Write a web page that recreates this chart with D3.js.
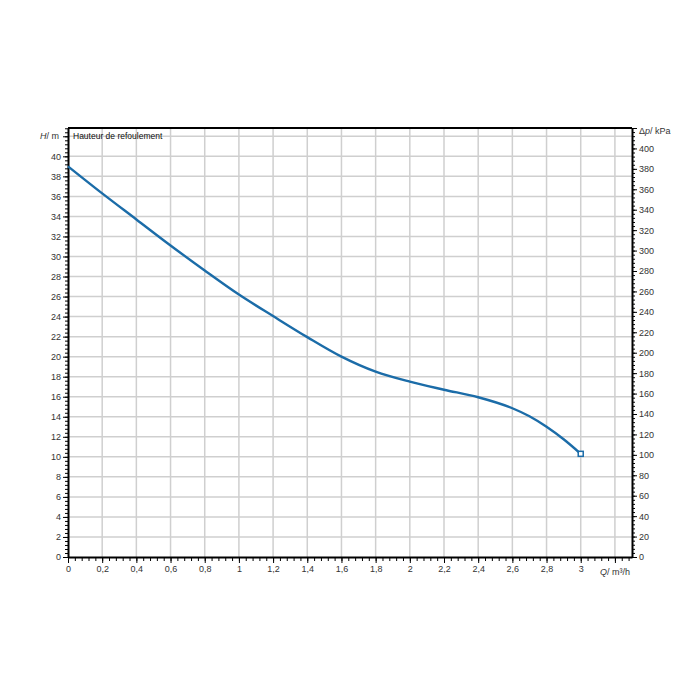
<!DOCTYPE html>
<meta charset="utf-8">
<style>
body { margin: 0; background: #fff; }
svg { font-family: "Liberation Sans", Arial, sans-serif; }
.grid line { stroke: #cfcfcf; stroke-width: 1.5px; }
.axis path, .axis line { stroke: #000; }
.axis path { stroke-width: 2px; }
.axis text { fill: #333; font-size: 9px; }
.curve { fill: none; stroke: #1b6ca8; stroke-width: 2.4px; }
</style>
<body>
<div id="chart"></div>
<script src="https://d3js.org/d3.v7.min.js"></script>
<script>
// flow Q (m3/h) and head H (m)
var flow = [0, 0.2, 0.4, 0.6, 0.8, 1.0, 1.2, 1.4, 1.6, 1.8, 2.0, 2.2, 2.4, 2.6, 2.7, 2.8, 2.9, 3.0];
var head = [39.0, 36.3, 33.7, 31.1, 28.6, 26.2, 24.05, 21.95, 20.0, 18.5, 17.5, 16.7, 15.95, 14.85, 14.05, 13.0, 11.75, 10.3];

var qTicks = [0, 0.2, 0.4, 0.6, 0.8, 1, 1.2, 1.4, 1.6, 1.8, 2, 2.2, 2.4, 2.6, 2.8, 3, 3.2];
var hTicks = [0, 2, 4, 6, 8, 10, 12, 14, 16, 18, 20, 22, 24, 26, 28, 30, 32, 34, 36, 38, 40, 42];
var pTicks = [0, 20, 40, 60, 80, 100, 120, 140, 160, 180, 200, 220, 240, 260, 280, 300, 320, 340, 360, 380, 400, 420];

var qMax = 3.3, pMax = 420, kPaPerM = 9.80665;

var margin = {top: 128, left: 68, right: 68, bottom: 143},
    width = 700 - margin.left - margin.right,
    height = 700 - margin.top - margin.bottom;

var x = d3.scaleLinear().domain([0, qMax]).range([0, width]);
var y = d3.scaleLinear().domain([0, pMax / kPaPerM]).range([height, 0]);
var yp = d3.scaleLinear().domain([0, pMax]).range([height, 0]);

var svg = d3.select("#chart").append("svg")
    .attr("width", 700)
    .attr("height", 700),
  g = svg.append("g")
    .attr("transform", "translate(" + margin.left + "," + margin.top + ")");

function fmt(v) { return String(+v.toFixed(1)).replace(".", ","); }
function range(a, b, s) { return d3.range(0, Math.round((b - a) / s) + 1).map(function(i) { return +(a + i * s).toFixed(3); }); }

// grid
g.append("g").attr("class", "grid")
  .selectAll("line").data(qTicks.slice(1)).enter().append("line")
    .attr("x1", x).attr("x2", x).attr("y1", 0).attr("y2", height);
g.append("g").attr("class", "grid")
  .selectAll("line").data(hTicks.slice(1)).enter().append("line")
    .attr("x1", 0).attr("x2", width).attr("y1", y).attr("y2", y);

// minor ticks
function minor(axis, scale, vals, len, tr) {
  g.append("g").attr("class", "axis").attr("transform", tr)
    .call(axis(scale).tickValues(vals).tickSize(len).tickFormat(""))
    .select(".domain").remove();
}
minor(d3.axisBottom, x, range(0, 3.28, 0.04), 4, "translate(0," + height + ")");
minor(d3.axisLeft, y, range(0, 42.8, 0.4), 3, null);
minor(d3.axisRight, yp, range(0, 420, 4), 3, "translate(" + width + ",0)");

// major axes
var xAxis = g.append("g").attr("class", "axis")
    .attr("transform", "translate(0," + height + ")")
    .call(d3.axisBottom(x).tickValues(qTicks).tickSize(6).tickPadding(3).tickSizeOuter(0)
      .tickFormat(function(d) { return d === 3.2 ? "" : fmt(d); }));
var yAxis = g.append("g").attr("class", "axis")
    .call(d3.axisLeft(y).tickValues(hTicks).tickSize(5).tickPadding(2).tickSizeOuter(0)
      .tickFormat(function(d) { return d === 42 ? "" : fmt(d); }));
var pAxis = g.append("g").attr("class", "axis")
    .attr("transform", "translate(" + width + ",0)")
    .call(d3.axisRight(yp).tickValues(pTicks).tickSize(5).tickPadding(2).tickSizeOuter(0)
      .tickFormat(function(d) { return d === 420 ? "" : fmt(d); }));

// top border
g.append("line").attr("x1", 0).attr("x2", width).attr("y1", 0).attr("y2", 0)
  .attr("stroke", "#000").attr("stroke-width", 2);

// unit labels in place of the last ticks
var qLab = g.append("text").attr("x", x(3.2)).attr("y", height + 18)
  .attr("text-anchor", "middle").attr("font-size", 9).attr("fill", "#333");
qLab.append("tspan").attr("font-style", "italic").text("Q");
qLab.append("tspan").text("/ m³/h");

var hLab = g.append("text").attr("x", -9).attr("y", y(42)).attr("dy", "0.32em")
  .attr("text-anchor", "end").attr("font-size", 9).attr("fill", "#333");
hLab.append("tspan").attr("font-style", "italic").text("H");
hLab.append("tspan").text("/ m");

var pLab = g.append("text").attr("x", width + 7).attr("y", yp(420) + 3).attr("dy", "0.32em")
  .attr("font-size", 9).attr("fill", "#333");
pLab.append("tspan").text("Δ");
pLab.append("tspan").attr("font-style", "italic").text("p");
pLab.append("tspan").text("/ kPa");

g.append("text").attr("x", 5).attr("y", y(42)).attr("dy", "0.32em")
  .attr("font-size", 8.5).attr("fill", "#111").text("Hauteur de refoulement");

// curve
var pts = flow.map(function(q, i) { return [q, head[i]]; });
var line = d3.line()
  .x(function(d) { return x(d[0]); })
  .y(function(d) { return y(d[1]); })
  .curve(d3.curveMonotoneX);

g.append("path").datum(pts).attr("class", "curve").attr("d", line);

var last = pts[pts.length - 1];
g.append("rect")
  .attr("x", x(last[0]) - 2.5).attr("y", y(last[1]) - 2.5)
  .attr("width", 5).attr("height", 5)
  .attr("fill", "#fff").attr("stroke", "#1b6ca8").attr("stroke-width", 1.5);
</script>
</body>
